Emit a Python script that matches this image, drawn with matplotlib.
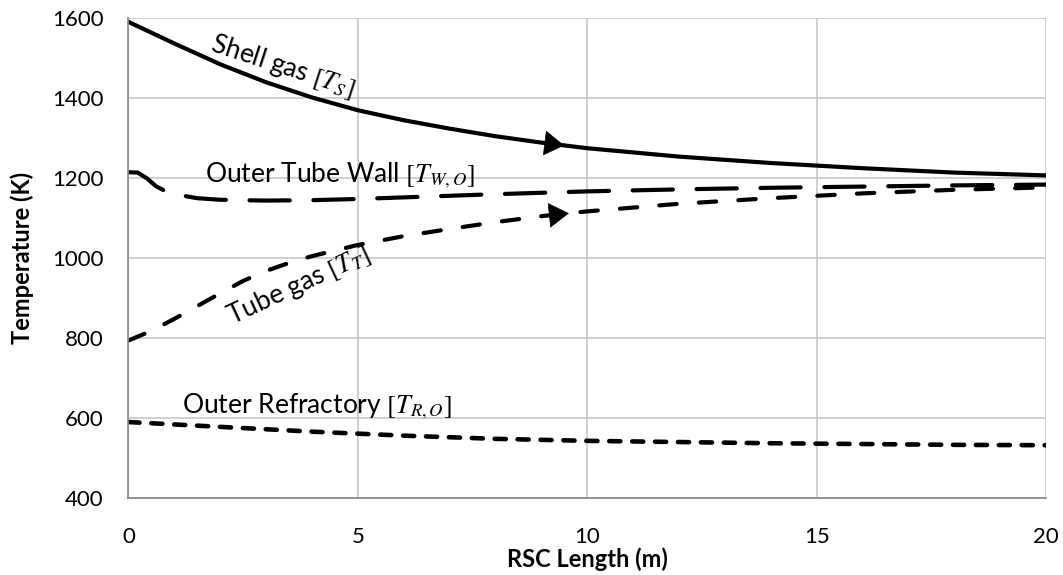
import numpy as np
import matplotlib.pyplot as plt

plt.rcParams['font.family'] = ['Lato', 'DejaVu Sans']
plt.rcParams['mathtext.fontset'] = 'stix'
plt.rcParams['lines.scale_dashes'] = False

# temperature profiles along the RSC (m, K)
x_shell = [0, 1, 2, 3, 4, 5, 6, 7, 8, 9, 10, 12, 14, 16, 18, 20]
t_shell = [1591, 1537, 1485, 1440, 1402, 1370, 1345, 1324, 1305, 1289, 1275, 1254, 1238, 1225, 1214, 1207]

x_wall = [0, 0.2, 0.4, 0.6, 0.8, 1, 1.5, 2, 3, 4, 5, 6, 8, 10, 12, 14, 16, 18, 20]
t_wall = [1215, 1214, 1200, 1180, 1168, 1160, 1150, 1146, 1144, 1145, 1148, 1152, 1160, 1167, 1172, 1176, 1179, 1182, 1184]

x_tube = [0, 0.5, 1, 1.5, 2, 2.5, 3, 3.5, 4, 5, 6, 7, 8, 9, 10, 12, 14, 16, 18, 20]
t_tube = [794, 818, 848, 880, 912, 943, 968, 988, 1005, 1033, 1055, 1073, 1090, 1105, 1117, 1136, 1150, 1162, 1171, 1177]

x_refr = [0, 1, 2, 3, 4, 5, 6, 7, 8, 10, 12, 14, 16, 18, 20]
t_refr = [590, 584, 578, 572, 566, 561, 556, 552, 548, 543, 540, 537, 535, 533, 532]

fig = plt.figure(figsize=(10.63, 5.75), dpi=100)
ax = fig.add_axes([0.1208, 0.1339, 0.8632, 0.8343])

lw = 3.0
ax.plot(x_shell, t_shell, color='black', lw=lw, solid_capstyle='round')
ax.plot(x_wall, t_wall, color='black', lw=lw, dashes=(29, 17), dash_capstyle='round')
ax.plot(x_tube, t_tube, color='black', lw=lw, dashes=(12.5, 16), dash_capstyle='round')
ax.plot(x_refr, t_refr, color='black', lw=3.3, dashes=(8, 8.5), dash_capstyle='round')

# flow direction arrows
for xs, ts, xa in [(x_shell, t_shell, 9.5), (x_tube, t_tube, 9.6)]:
    ya = np.interp(xa, xs, ts)
    yb = np.interp(xa - 0.4, xs, ts)
    ax.annotate('', xy=(xa, ya), xytext=(xa - 0.4, yb),
                arrowprops=dict(arrowstyle='-|>,head_length=0.4,head_width=0.25',
                                color='black', lw=0.5,
                                mutation_scale=34, shrinkA=0, shrinkB=0))

fs = 19
ax.text(3.35, 1481, r'Shell gas $[T_S]$', rotation=-18, fontsize=fs,
        ha='center', va='center', rotation_mode='anchor')
ax.text(1.67, 1190, r'Outer Tube Wall $[T_{W,O}]$', fontsize=fs, ha='left', va='baseline')
ax.text(3.72, 932, r'Tube gas $[T_T]$', rotation=25, fontsize=fs,
        ha='center', va='center', rotation_mode='anchor')
ax.text(1.17, 612, r'Outer Refractory $[T_{R,O}]$', fontsize=fs, ha='left', va='baseline')

ax.set_xlim(0, 20)
ax.set_ylim(400, 1600)
ax.set_xticks([0, 5, 10, 15, 20])
ax.set_yticks(range(400, 1601, 200))
ax.tick_params(length=0, labelsize=16, pad=18, colors='black')
ax.tick_params(axis='x', pad=21)
ax.grid(True, color='#c8c8c8', lw=1.2)
ax.set_axisbelow(True)
for s in ['top', 'right']:
    ax.spines[s].set_visible(False)
for s in ['left', 'bottom']:
    ax.spines[s].set_color('#8c8c8c')
    ax.spines[s].set_linewidth(1.3)

ax.set_xlabel('RSC Length (m)', fontsize=17, fontweight='bold', labelpad=0)
ax.set_ylabel('Temperature (K)', fontsize=17, fontweight='bold', labelpad=13)

fig.savefig('out.png', dpi=100, facecolor='white')
